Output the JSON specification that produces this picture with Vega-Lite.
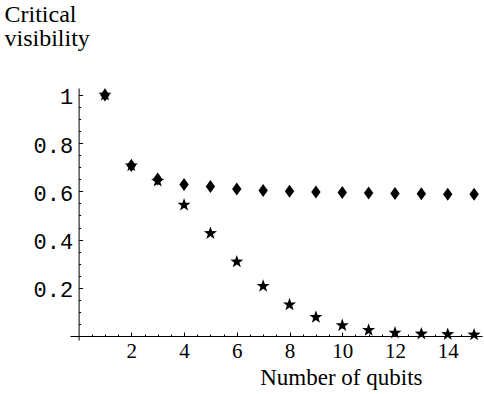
{
  "$schema": "https://vega.github.io/schema/vega-lite/v6.json",
  "width": 412,
  "height": 252,
  "autosize": {"type": "none"},
  "padding": {"left": 70, "top": 88, "right": 2, "bottom": 54},
  "background": "white",
  "config": {
    "view": {"stroke": null},
    "axis": {"grid": false, "domainColor": "black", "tickColor": "black", "labelColor": "black", "titleColor": "black", "domainWidth": 1, "tickWidth": 1, "labelFlush": false, "labelOverlap": false, "labelBound": false}
  },
  "data": {
    "values": [
      {"n": 1, "v": 1, "type": "diamond"},
      {"n": 2, "v": 0.707, "type": "diamond"},
      {"n": 3, "v": 0.651, "type": "diamond"},
      {"n": 4, "v": 0.629, "type": "diamond"},
      {"n": 5, "v": 0.62, "type": "diamond"},
      {"n": 6, "v": 0.61, "type": "diamond"},
      {"n": 7, "v": 0.604, "type": "diamond"},
      {"n": 8, "v": 0.601, "type": "diamond"},
      {"n": 9, "v": 0.598, "type": "diamond"},
      {"n": 10, "v": 0.595, "type": "diamond"},
      {"n": 11, "v": 0.593, "type": "diamond"},
      {"n": 12, "v": 0.591, "type": "diamond"},
      {"n": 13, "v": 0.59, "type": "diamond"},
      {"n": 14, "v": 0.588, "type": "diamond"},
      {"n": 15, "v": 0.588, "type": "diamond"},
      {"n": 1, "v": 1, "type": "star"},
      {"n": 2, "v": 0.707, "type": "star"},
      {"n": 3, "v": 0.643, "type": "star"},
      {"n": 4, "v": 0.544, "type": "star"},
      {"n": 5, "v": 0.426, "type": "star"},
      {"n": 6, "v": 0.308, "type": "star"},
      {"n": 7, "v": 0.207, "type": "star"},
      {"n": 8, "v": 0.13, "type": "star"},
      {"n": 9, "v": 0.078, "type": "star"},
      {"n": 10, "v": 0.044, "type": "star"},
      {"n": 11, "v": 0.024, "type": "star"},
      {"n": 12, "v": 0.013, "type": "star"},
      {"n": 13, "v": 0.009, "type": "star"},
      {"n": 14, "v": 0.007, "type": "star"},
      {"n": 15, "v": 0.005, "type": "star"}
    ]
  },
  "layer": [
    {
      "transform": [{"filter": "datum.type == 'diamond'"}],
      "mark": {"type": "point", "filled": true, "fill": "black", "opacity": 1, "strokeWidth": 0, "size": 169, "shape": "M0,-1L0.72,0L0,1L-0.72,0Z"},
      "encoding": {
        "x": {
          "field": "n", "type": "quantitative",
          "scale": {"domain": [-0.326, 15.3], "nice": false, "zero": false},
          "axis": {
            "orient": "bottom", "values": [2, 4, 6, 8, 10, 12, 14], "offset": -4, "tickSize": -4, "labelPadding": 8,
            "labelFont": "Liberation Serif", "labelFontSize": 21, "labelFontWeight": "normal",
            "title": "Number of qubits", "titleFont": "Liberation Serif", "titleFontSize": 23, "titleFontWeight": "normal",
            "titleX": 352, "titleY": 48, "titleAlign": "right", "titleBaseline": "alphabetic", "titleAnchor": "end"
          }
        },
        "y": {
          "field": "v", "type": "quantitative",
          "scale": {"domain": [-0.0166, 1.029], "nice": false, "zero": false},
          "axis": {
            "orient": "left", "values": [0.2, 0.4, 0.6, 0.8, 1], "offset": -8.6, "tickSize": -4, "labelPadding": 10, "labelOffset": 2,
            "labelFont": "Liberation Mono", "labelFontSize": 22,
            "labelExpr": "datum.value == 1 ? '1' : format(datum.value, '.1f')",
            "title": ["Critical", "visibility"], "titleAngle": 0, "titleFont": "Liberation Serif", "titleFontSize": 24, "titleFontWeight": "normal",
            "titleX": -74.6, "titleY": -67, "titleAlign": "left", "titleBaseline": "alphabetic", "titleLineHeight": 24, "titleAnchor": "start"
          }
        }
      }
    },
    {
      "transform": [{"filter": "datum.type == 'star'"}],
      "mark": {"type": "point", "filled": true, "fill": "black", "opacity": 1, "strokeWidth": 0, "size": 190, "shape": "M0,-1L0.235,-0.324L0.951,-0.309L0.38,0.124L0.588,0.809L0,0.4L-0.588,0.809L-0.38,0.124L-0.951,-0.309L-0.235,-0.324Z"},
      "encoding": {
        "x": {
          "field": "n", "type": "quantitative",
          "scale": {"domain": [-0.326, 15.3], "nice": false, "zero": false},
          "axis": {
            "orient": "bottom", "values": [0.5, 1, 1.5, 2.5, 3, 3.5, 4.5, 5, 5.5, 6.5, 7, 7.5, 8.5, 9, 9.5, 10.5, 11, 11.5, 12.5, 13, 13.5, 14.5, 15],
            "offset": -4, "tickSize": -2, "labels": false, "domain": false, "title": null
          }
        },
        "y": {
          "field": "v", "type": "quantitative",
          "scale": {"domain": [-0.0166, 1.029], "nice": false, "zero": false},
          "axis": {
            "orient": "left", "values": [0.05, 0.1, 0.15, 0.25, 0.3, 0.35, 0.45, 0.5, 0.55, 0.65, 0.7, 0.75, 0.85, 0.9, 0.95],
            "offset": -8.6, "tickSize": -2, "labels": false, "domain": false, "title": null
          }
        }
      }
    }
  ],
  "resolve": {"axis": {"x": "independent", "y": "independent"}}
}
